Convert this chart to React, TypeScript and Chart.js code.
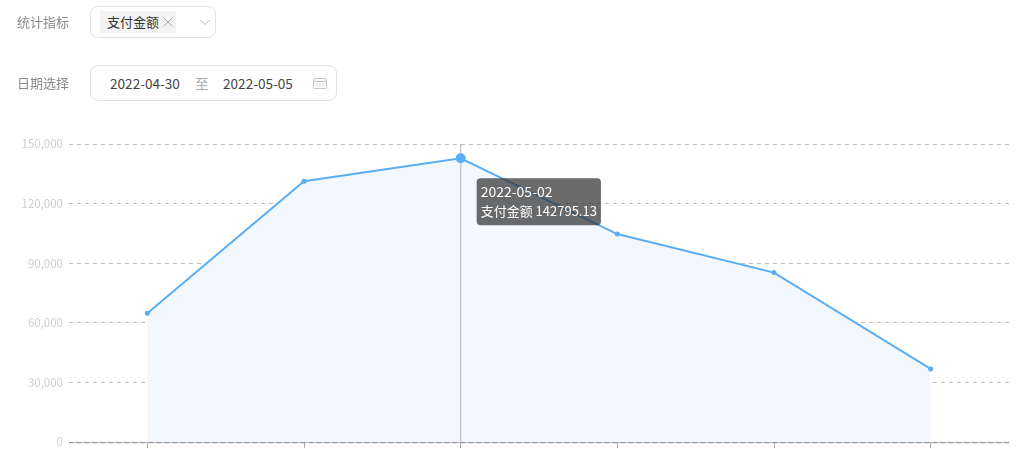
import React, { useEffect, useRef } from "react";
import { Chart, registerables, Tooltip } from "chart.js";

Chart.register(...registerables);

const categories = ["2022-04-30", "2022-05-01", "2022-05-02", "2022-05-03", "2022-05-04", "2022-05-05"];
const payAmount = [64800, 131300, 142795.13, 104700, 85300, 36800];
const seriesName = "支付金额";
const activeIndex = 2;

const FONT = '"Noto Sans CJK SC", "Noto Sans", sans-serif';

(Tooltip.positioners as any).fixedOffset = function (items: any[]) {
  if (!items.length) return false;
  const el = items[0].element;
  return { x: el.x + 20, y: el.y + 20 };
};

const crosshair = {
  id: "crosshair",
  beforeDatasetDraw(chart: any) {
    const { ctx, chartArea, scales } = chart;
    const x = scales.x.getPixelForValue(activeIndex);
    ctx.save();
    ctx.strokeStyle = "#c4c6ca";
    ctx.lineWidth = 1.5;
    ctx.beginPath();
    ctx.moveTo(x, chartArea.top);
    ctx.lineTo(x, chartArea.bottom);
    ctx.stroke();
    ctx.restore();
  },
};

const baseline = {
  id: "baseline",
  afterDatasetsDraw(chart: any) {
    const { ctx, chartArea } = chart;
    const y = chartArea.bottom + 0.5;
    ctx.save();
    ctx.lineWidth = 1;
    ctx.strokeStyle = "#b4b4b4";
    ctx.beginPath();
    ctx.moveTo(chartArea.left, y);
    ctx.lineTo(chartArea.right, y);
    ctx.stroke();
    ctx.strokeStyle = "#888888";
    ctx.setLineDash([4, 4]);
    ctx.beginPath();
    ctx.moveTo(chartArea.left, y);
    ctx.lineTo(chartArea.right, y);
    ctx.stroke();
    ctx.restore();
  },
};

const labelStyle: React.CSSProperties = {
  position: "absolute",
  left: 17,
  fontSize: 13,
  lineHeight: "20px",
  color: "#8a8a8a",
};

const boxStyle: React.CSSProperties = {
  position: "absolute",
  left: 90,
  boxSizing: "border-box",
  border: "1px solid #e3e3e3",
  borderRadius: 8,
  background: "#fff",
};

const textAt = (left: number, color: string): React.CSSProperties => ({
  position: "absolute",
  left,
  top: 73,
  fontSize: 13.6,
  lineHeight: "20px",
  color,
  whiteSpace: "nowrap",
});

export default function App() {
  const ref = useRef<HTMLCanvasElement>(null);

  useEffect(() => {
    const chart = new Chart(ref.current as HTMLCanvasElement, {
      type: "line",
      data: {
        labels: categories,
        datasets: [
          {
            label: seriesName,
            data: payAmount,
            borderColor: "#5aaef3",
            borderWidth: 2,
            backgroundColor: "#f3f8fe",
            fill: "origin",
            tension: 0,
            pointRadius: 2.5,
            pointHoverRadius: 5,
            pointBackgroundColor: "#5aaef3",
            pointBorderColor: "#5aaef3",
            pointHoverBackgroundColor: "#5aaef3",
            pointHoverBorderColor: "#5aaef3",
            pointBorderWidth: 0,
            pointHoverBorderWidth: 0,
          },
        ],
      },
      options: {
        responsive: false,
        animation: false,
        events: [],
        layout: { padding: { top: 144, right: 13, left: 0, bottom: 0 } },
        plugins: {
          legend: { display: false },
          tooltip: {
            enabled: true,
            position: "fixedOffset" as any,
            xAlign: "left",
            yAlign: "top",
            caretSize: 0,
            caretPadding: 0,
            cornerRadius: 4,
            backgroundColor: "rgba(50,50,50,0.72)",
            titleColor: "#fff",
            bodyColor: "#fff",
            titleFont: { family: FONT, size: 14, weight: "normal" },
            bodyFont: { family: FONT, size: 13, weight: "normal" },
            titleMarginBottom: 3.5,
            padding: { left: 4, right: 4, top: 5, bottom: 6 },
            displayColors: false,
            callbacks: {
              label: (c: any) => `${seriesName} ${c.parsed.y}`,
            },
          },
        },
        scales: {
          x: {
            type: "category",
            offset: true,
            border: { display: false },
            grid: {
              offset: false,
              drawOnChartArea: false,
              drawTicks: true,
              tickLength: 6,
              color: "#a8a8a8",
            },
            ticks: { display: false },
          },
          y: {
            min: 0,
            max: 150000,
            border: { display: false, dash: [4, 4] },
            grid: {
              color: "#bdbdbd",
              drawTicks: false,
            },
            ticks: {
              stepSize: 30000,
              color: "#cdcdcd",
              padding: 6,
              font: { family: FONT, size: 11.5 },
              callback: (v: any) => Number(v).toLocaleString("en-US"),
            },
            afterFit: (s: any) => {
              s.width = 69;
            },
          },
        },
      },
      plugins: [baseline, crosshair],
    } as any);

    const active = [{ datasetIndex: 0, index: activeIndex }];
    chart.setActiveElements(active);
    chart.tooltip?.setActiveElements(active, { x: 0, y: 0 });
    chart.update();

    return () => chart.destroy();
  }, []);

  return (
    <div
      style={{
        position: "absolute",
        left: 0,
        top: 0,
        width: 1022,
        height: 449,
        overflow: "hidden",
        background: "#fff",
        fontFamily: FONT,
      }}
    >
      <canvas ref={ref} width={1022} height={455} style={{ position: "absolute", left: 0, top: 0, width: 1022, height: 455 }} />

      <div style={{ ...labelStyle, top: 12 }}>统计指标</div>
      <div style={{ ...boxStyle, top: 6, width: 126, height: 32 }} />
      <div style={{ position: "absolute", left: 100, top: 11, width: 76, height: 22, background: "#f3f3f3" }} />
      <div style={{ position: "absolute", left: 107, top: 12, fontSize: 13, lineHeight: "20px", color: "#333", whiteSpace: "nowrap" }}>
        {seriesName}
      </div>
      <svg style={{ position: "absolute", left: 163, top: 17 }} width="10" height="10" viewBox="0 0 10 10">
        <path d="M0.5 0.5 L9.5 9.5 M9.5 0.5 L0.5 9.5" stroke="#a8a8a8" strokeWidth="1" fill="none" />
      </svg>
      <svg style={{ position: "absolute", left: 200, top: 19 }} width="10" height="7" viewBox="0 0 10 7">
        <path d="M0.5 1 L5 5.5 L9.5 1" stroke="#b5b5b5" strokeWidth="1" fill="none" />
      </svg>

      <div style={{ ...labelStyle, top: 73 }}>日期选择</div>
      <div style={{ ...boxStyle, top: 65, width: 247, height: 36 }} />
      <div style={textAt(110, "#444")}>{categories[0]}</div>
      <div style={textAt(195, "#aaa")}>至</div>
      <div style={textAt(223, "#444")}>{categories[5]}</div>
      <svg style={{ position: "absolute", left: 313, top: 77 }} width="14" height="12" viewBox="0 0 14 12">
        <rect x="0.5" y="1.5" width="13" height="10" rx="1" stroke="#c4c4c4" fill="none" />
        <path d="M0.5 4.5 H13.5" stroke="#c4c4c4" />
        <path d="M3 7 H4.5 M6.2 7 H7.8 M9.5 7 H11 M3 9 H4.5 M6.2 9 H7.8 M9.5 9 H11" stroke="#c4c4c4" />
      </svg>
    </div>
  );
}
